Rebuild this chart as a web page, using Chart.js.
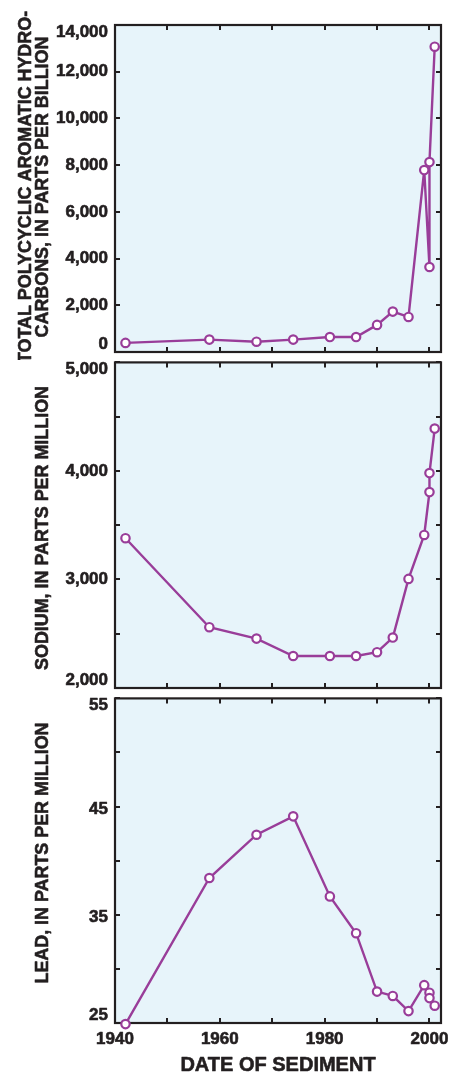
<!DOCTYPE html>
<html>
<head>
<meta charset="utf-8">
<script src="https://cdn.jsdelivr.net/npm/chart.js@4.4.1/dist/chart.umd.min.js"></script>
<style>
  html, body { margin: 0; padding: 0; background: #ffffff; }
  body { width: 450px; height: 1072px; position: relative; overflow: hidden; }
  canvas { position: absolute; left: 0; }
</style>
</head>
<body>
<canvas id="c1" width="450" height="360" style="top:0px"></canvas>
<canvas id="c2" width="450" height="340" style="top:356px"></canvas>
<canvas id="c3" width="450" height="380" style="top:692px"></canvas>
<script>
// ---- data ----
const years = [1942, 1958, 1967, 1974, 1981, 1986, 1990, 1993, 1996, 1999, 2000, 2000, 2001];
const pah = [390, 530, 440, 530, 640, 640, 1160, 1730, 1500, 7790, 3640, 8130, 13070];
const sodium = [3380, 2560, 2455, 2295, 2295, 2295, 2330, 2465, 3005, 3410, 3805, 3980, 4390];
const lead = [24.9, 38.4, 42.4, 44.1, 36.7, 33.3, 27.9, 27.5, 26.1, 28.5, 27.8, 27.3, 26.6];

// ---- ticks ----
const xTicks = [1940, 1950, 1960, 1970, 1980, 1990, 2000];
const xTickLabels = [1940, 1960, 1980, 2000];
const pahTicks = [0, 2000, 4000, 6000, 8000, 10000, 12000, 14000];
const pahTickLabels = [0, 2000, 4000, 6000, 8000, 10000, 12000, 14000];
const sodiumTicks = [2000, 2500, 3000, 3500, 4000, 4500, 5000];
const sodiumTickLabels = [2000, 3000, 4000, 5000];
const leadTicks = [25, 30, 35, 40, 45, 50, 55];
const leadTickLabels = [25, 35, 45, 55];

const FONT = '"Liberation Sans", Arial, Helvetica, sans-serif';
const INK = '#231f20';
const PURPLE = '#993d99';
const BG = '#e7f4fa';

function fmt(v) { return v.toLocaleString('en-US'); }

function boldText(ctx, t, x, y) {
  ctx.fillText(t, x, y);
  ctx.strokeText(t, x, y);
}

function panelPlugin(cfg) {
  return {
    id: 'panel',
    beforeDraw(chart) {
      const a = chart.chartArea, ctx = chart.ctx;
      ctx.save();
      ctx.fillStyle = BG;
      ctx.fillRect(a.left, a.top, a.right - a.left, a.bottom - a.top);
      ctx.restore();
    },
    beforeDatasetsDraw(chart) {
      const a = chart.chartArea, ctx = chart.ctx;
      const xs = chart.scales.x, ys = chart.scales.y;
      const tl = 5;
      ctx.save();
      ctx.strokeStyle = INK;
      ctx.lineWidth = 2;
      ctx.beginPath();
      xTicks.forEach(v => {
        const px = Math.round(xs.getPixelForValue(v));
        ctx.moveTo(px, a.bottom); ctx.lineTo(px, a.bottom - tl);
        ctx.moveTo(px, a.top); ctx.lineTo(px, a.top + tl);
      });
      cfg.yTicks.forEach(v => {
        const py = Math.round(ys.getPixelForValue(v));
        ctx.moveTo(a.left, py); ctx.lineTo(a.left + tl, py);
        ctx.moveTo(a.right, py); ctx.lineTo(a.right - tl, py);
      });
      ctx.stroke();
      ctx.lineWidth = 2.2;
      ctx.strokeRect(a.left, a.top, a.right - a.left, a.bottom - a.top);

      // text
      ctx.fillStyle = INK;
      ctx.lineWidth = 0.6;
      ctx.lineJoin = 'round';
      ctx.font = 'bold 17px ' + FONT;
      ctx.textAlign = 'right';
      ctx.textBaseline = 'middle';
      cfg.yLabels.forEach(v => {
        let py = ys.getPixelForValue(v) + cfg.labelShift;
        py = Math.max(py, a.top + 7);
        py = Math.min(py, a.bottom - 8);
        boldText(ctx, fmt(v), a.left - 7, py);
      });

      if (cfg.xLabels) {
        ctx.textAlign = 'center';
        cfg.xLabels.forEach(v => {
          boldText(ctx, String(v), xs.getPixelForValue(v), a.bottom + 16);
        });
        ctx.font = 'bold 20px ' + FONT;
        boldText(ctx, cfg.xTitle, (a.left + a.right) / 2, a.bottom + 42);
      }

      ctx.font = 'bold 17.9px ' + FONT;
      ctx.textAlign = 'center';
      cfg.titleLines.forEach((t, i) => {
        ctx.save();
        ctx.translate(cfg.titleX[i], cfg.titleY);
        ctx.rotate(-Math.PI / 2);
        boldText(ctx, t, 0, 0);
        ctx.restore();
      });
      ctx.restore();
    }
  };
}

function makeChart(id, values, yMin, yMax, pad, cfg) {
  const pts = years.map((y, i) => ({ x: y, y: values[i] }));
  return new Chart(document.getElementById(id), {
    type: 'scatter',
    data: {
      datasets: [{
        data: pts,
        showLine: true,
        borderColor: PURPLE,
        borderWidth: 2.4,
        pointRadius: 4.2,
        pointHoverRadius: 4.2,
        pointBorderWidth: 2.2,
        pointBackgroundColor: '#ffffff',
        pointBorderColor: PURPLE,
        clip: false,
        tension: 0
      }]
    },
    options: {
      responsive: false,
      animation: false,
      devicePixelRatio: 1,
      layout: { padding: pad },
      plugins: { legend: { display: false }, tooltip: { enabled: false } },
      scales: {
        x: { type: 'linear', min: 1940, max: 2002.2, display: false },
        y: { type: 'linear', min: yMin, max: yMax, display: false }
      }
    },
    plugins: [panelPlugin(cfg)]
  });
}

makeChart('c1', pah, 0, 14000, { left: 115, right: 9, top: 25, bottom: 8 }, {
  yTicks: pahTicks, yLabels: pahTickLabels, labelShift: 0,
  titleLines: ['TOTAL POLYCYCLIC AROMATIC HYDRO-', 'CARBONS, IN PARTS PER BILLION'],
  titleX: [26, 43], titleY: 187
});
makeChart('c2', sodium, 2000, 5000, { left: 115, right: 9, top: 5, bottom: 8 }, {
  yTicks: sodiumTicks, yLabels: sodiumTickLabels, labelShift: 0,
  titleLines: ['SODIUM, IN PARTS PER MILLION'],
  titleX: [43], titleY: 528 - 356
});
makeChart('c3', lead, 25, 55, { left: 115, right: 9, top: 5, bottom: 49 }, {
  yTicks: leadTicks, yLabels: leadTickLabels, labelShift: 3,
  xLabels: xTickLabels, xTitle: 'DATE OF SEDIMENT',
  titleLines: ['LEAD, IN PARTS PER MILLION'],
  titleX: [43], titleY: 853 - 692
});
</script>
</body>
</html>
